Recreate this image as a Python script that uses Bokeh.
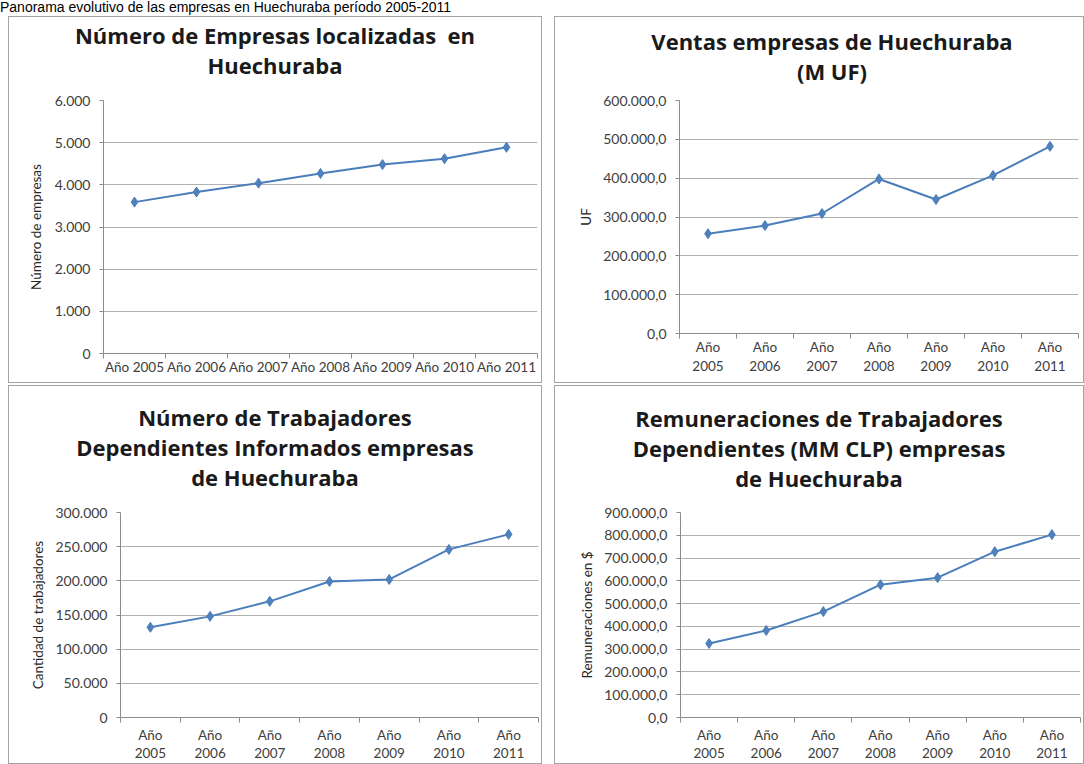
from bokeh.plotting import figure
from bokeh.models import Range1d, FixedTicker, Div, Spacer
from bokeh.layouts import column, row
from bokeh.embed import file_html
from bokeh.resources import INLINE

# ---------------- data ----------------
years = ["2005", "2006", "2007", "2008", "2009", "2010", "2011"]
labels_one_line = ["Año " + y for y in years]
labels_two_lines = ["Año\n" + y for y in years]

empresas = [3590, 3830, 4040, 4270, 4480, 4620, 4890]
ventas = [257000.0, 278000.0, 309000.0, 398000.0, 345000.0, 407000.0, 482000.0]
trabajadores = [132000, 148000, 170000, 199000, 202000, 246000, 268000]
remuneraciones = [325000.0, 382000.0, 465000.0, 583000.0, 614000.0, 728000.0, 803000.0]

ticks_empresas = [0, 1000, 2000, 3000, 4000, 5000, 6000]
ticks_ventas = [0, 100000, 200000, 300000, 400000, 500000, 600000]
ticks_trabajadores = [0, 50000, 100000, 150000, 200000, 250000, 300000]
ticks_remuneraciones = [0, 100000, 200000, 300000, 400000, 500000, 600000, 700000, 800000, 900000]

title_empresas = ["Número de Empresas localizadas  en", "Huechuraba"]
title_ventas = ["Ventas empresas de Huechuraba", "(M UF)"]
title_trabajadores = ["Número de Trabajadores", "Dependientes Informados empresas", "de Huechuraba"]
title_remuneraciones = ["Remuneraciones de Trabajadores", "Dependientes (MM CLP) empresas", "de Huechuraba"]

page_title = "Panorama evolutivo de las empresas en Huechuraba período 2005-2011"

FONT = "Lato"
TFONT = "Open Sans"
LINE = "#4A7EBB"
GRID = "#b0b0b0"
AXIS = "#8c8c8c"
TXT = "#404040"


def es_fmt(v, decimals):
    s = f"{v:,.{decimals}f}"
    return s.replace(",", "X").replace(".", ",").replace("X", ".")


def title_div(lines, w, h, pad_top, shift):
    html = "<br>".join(l.replace("  ", "&nbsp; ") for l in lines)
    text = (f'<div style="width:{w}px; box-sizing:border-box; text-align:center; '
            f'font-family:\'{TFONT}\'; font-weight:bold; font-size:22px; line-height:30px; '
            f'color:#1a1a1a; padding-top:{pad_top}px; padding-left:{max(shift, 0)}px; '
            f'padding-right:{max(-shift, 0)}px; white-space:nowrap;">{html}</div>')
    return Div(text=text, width=w, height=h, margin=0)


def chart(values, yticks, decimals, ylabel, xlabels, w, h,
          bl, br, bt, bb, xstand, xlh, ystand):
    p = figure(width=w, height=h, output_backend="svg", toolbar_location=None,
               x_range=Range1d(-0.5, len(values) - 0.5),
               y_range=Range1d(yticks[0], yticks[-1]),
               min_border_left=bl, min_border_right=br,
               min_border_top=bt, min_border_bottom=bb, margin=0)
    p.border_fill_color = None
    p.background_fill_color = "white"
    p.outline_line_color = None

    xs = list(range(len(values)))
    p.line(xs, values, line_color=LINE, line_width=2)
    p.scatter(xs, values, marker="diamond", size=10,
              fill_color="#4F81BD", line_color=LINE)

    xa = p.xaxis[0]
    xa.ticker = FixedTicker(ticks=xs, minor_ticks=[i - 0.5 for i in range(len(values) + 1)])
    xa.major_label_overrides = {i: lab for i, lab in enumerate(xlabels)}
    xa.major_tick_line_color = None
    xa.major_tick_out = 0
    xa.major_tick_in = 0
    xa.minor_tick_out = 5
    xa.minor_tick_in = 0
    xa.minor_tick_line_color = AXIS
    xa.axis_line_color = AXIS
    xa.major_label_text_font = FONT
    xa.major_label_text_font_size = "13.5px"
    xa.major_label_text_color = TXT
    xa.major_label_text_line_height = xlh
    xa.major_label_standoff = xstand

    ya = p.yaxis[0]
    ya.ticker = FixedTicker(ticks=yticks)
    ya.major_label_overrides = {t: es_fmt(t, decimals) for t in yticks}
    ya.major_tick_out = 4
    ya.major_tick_in = 0
    ya.major_tick_line_color = AXIS
    ya.minor_tick_line_color = None
    ya.axis_line_color = AXIS
    ya.major_label_text_font = FONT
    ya.major_label_text_font_size = "14px"
    ya.major_label_text_color = TXT
    ya.major_label_standoff = 9
    ya.axis_label = ylabel
    ya.axis_label_text_font = FONT
    ya.axis_label_text_font_size = "13.5px"
    ya.axis_label_text_font_style = "normal"
    ya.axis_label_text_color = "#262626"
    ya.axis_label_standoff = ystand

    p.xgrid.visible = False
    p.ygrid.grid_line_color = GRID
    return p


PANEL_STYLE = {"background-color": "white", "box-shadow": "inset 0 0 0 1px #a3a3a3"}

t1 = title_div(title_empresas, 534, 70, 4, 0)
c1 = chart(empresas, ticks_empresas, 0, "Número de empresas", labels_one_line,
           534, 297, 95, 5, 14, 30, 0, 1.2, 8)
t2 = title_div(title_ventas, 530, 70, 10, 26)
c2 = chart(ventas, ticks_ventas, 1, "UF", labels_two_lines,
           530, 297, 125, 6, 14, 50, 0, 1.2, 6)
t3 = title_div(title_trabajadores, 534, 110, 17, 0)
c3 = chart(trabajadores, ticks_trabajadores, 0, "Cantidad de trabajadores", labels_two_lines,
           534, 269, 112, 4, 17, 47, 4, 1.15, 6)
t4 = title_div(title_remuneraciones, 530, 110, 18, 0)
c4 = chart(remuneraciones, ticks_remuneraciones, 1, "Remuneraciones en $", labels_two_lines,
           530, 269, 126, 4, 17, 47, 4, 1.15, 6)

panel1 = column(t1, c1, spacing=0, margin=0, styles=PANEL_STYLE)
panel2 = column(t2, c2, spacing=0, margin=0, styles=PANEL_STYLE)
panel3 = column(t3, c3, spacing=0, margin=0, styles=PANEL_STYLE)
panel4 = column(t4, c4, spacing=0, margin=0, styles=PANEL_STYLE)

head = Div(text=page_title, width=1068, height=14, margin=0,
           styles={"font-family": "Liberation Sans, Arial, sans-serif",
                   "font-size": "14px", "line-height": "14px", "color": "#000"})

layout = column(head,
                row(Spacer(width=8, height=10, margin=0), panel1,
                    Spacer(width=12, height=10, margin=0), panel2, spacing=0, margin=0),
                row(Spacer(width=8, height=10, margin=0), panel3,
                    Spacer(width=12, height=10, margin=0), panel4, spacing=0, margin=0),
                spacing=2, margin=0)

open("out.html", "w").write(file_html(layout, INLINE))
